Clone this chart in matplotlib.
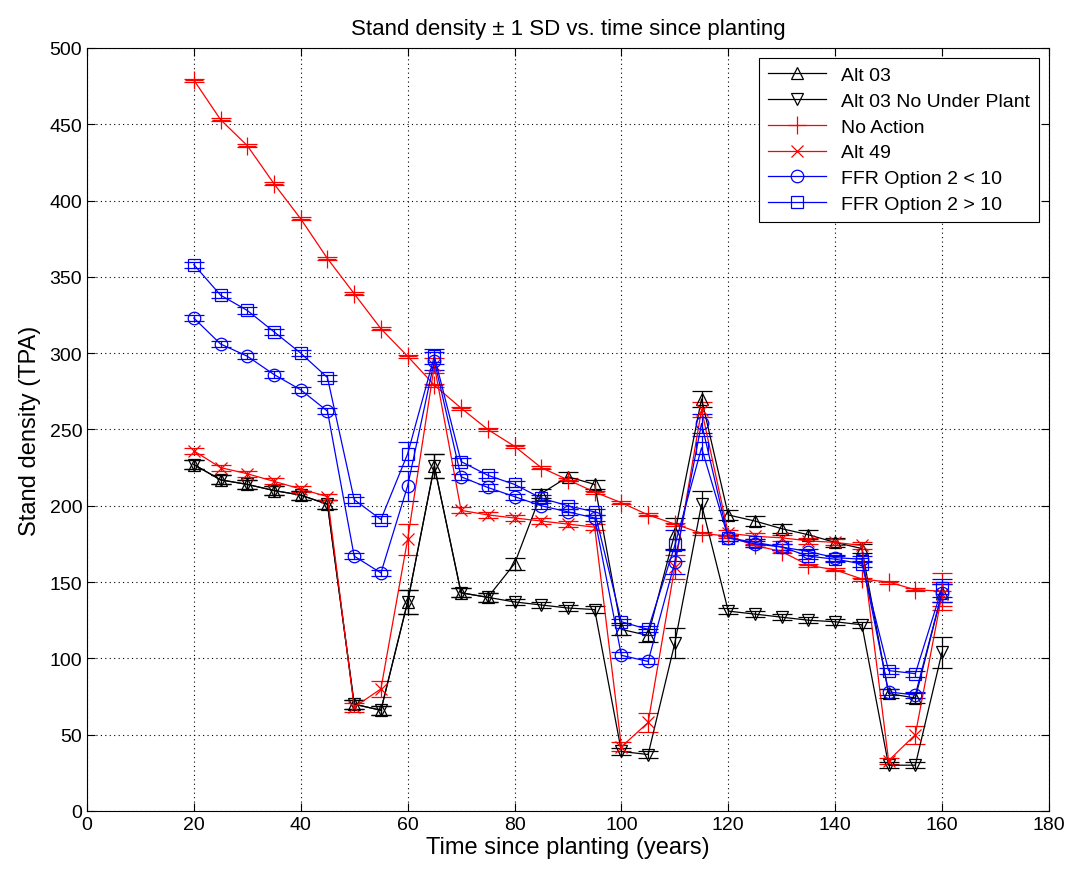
import numpy as np
import matplotlib
matplotlib.use("Agg")
import matplotlib.pyplot as plt
from matplotlib.lines import Line2D

plt.rcParams['font.family'] = ['Liberation Sans', 'DejaVu Sans']

years = [20, 25, 30, 35, 40, 45, 50, 55, 60, 65, 70, 75, 80, 85, 90, 95,
         100, 105, 110, 115, 120, 125, 130, 135, 140, 145, 150, 155, 160]

alt03 = [227, 217, 214, 210, 207, 201, 70, 66, 137, 226, 143, 140, 162, 208, 219, 214,
         119, 115, 182, 270, 194, 190, 185, 181, 176, 172, 77, 74, 143]
alt03_sd = [3, 3, 3, 3, 3, 3, 3, 3, 8, 8, 3, 3, 4, 3, 3, 3,
            4, 4, 10, 5, 3, 3, 3, 3, 3, 3, 3, 3, 6]

alt03_nup = [227, 217, 214, 210, 207, 201, 70, 66, 137, 226, 143, 140, 137, 135, 133, 132,
             39, 37, 110, 201, 131, 129, 127, 125, 124, 122, 30, 30, 104]
alt03_nup_sd = [3, 3, 3, 3, 3, 3, 3, 3, 8, 8, 3, 3, 2, 2, 2, 2,
                2, 2, 10, 9, 2, 2, 2, 2, 2, 2, 2, 2, 10]

no_action = [479, 453, 436, 411, 388, 362, 339, 316, 298, 279, 264, 250, 239, 225, 217, 209,
             202, 194, 188, 182, 180, 174, 170, 161, 158, 152, 150, 145, 144]
no_action_sd = [1, 1, 1, 1, 1, 1, 1, 1, 1, 1, 1, 1, 1, 1, 1, 1,
                1, 1, 1, 1, 1, 1, 1, 1, 1, 1, 1, 1, 12]

alt49 = [236, 225, 221, 216, 211, 206, 68, 80, 178, 292, 197, 194, 192, 190, 188, 186,
         42, 58, 160, 263, 182, 180, 179, 177, 176, 174, 33, 50, 142]
alt49_sd = [2, 2, 2, 2, 2, 2, 3, 5, 10, 5, 2, 2, 2, 2, 2, 2,
            3, 6, 8, 5, 2, 2, 2, 2, 2, 2, 2, 6, 8]

ffr_lt10 = [323, 306, 298, 286, 276, 262, 167, 156, 213, 295, 219, 212, 206, 200, 196, 192,
            102, 98, 163, 254, 179, 175, 173, 170, 166, 165, 78, 76, 143]
ffr_lt10_sd = [2, 2, 2, 2, 2, 2, 2, 2, 10, 6, 2, 2, 2, 2, 2, 2,
               2, 2, 8, 6, 2, 2, 2, 2, 2, 2, 2, 2, 6]

ffr_gt10 = [358, 338, 328, 314, 300, 284, 204, 191, 234, 298, 229, 220, 214, 205, 200, 196,
            124, 119, 174, 238, 179, 176, 173, 167, 165, 162, 92, 90, 146]
ffr_gt10_sd = [2, 2, 2, 2, 2, 2, 2, 2, 8, 5, 2, 2, 2, 2, 2, 2,
               2, 2, 10, 8, 2, 2, 2, 2, 2, 2, 2, 2, 6]

labels = ["Alt 03", "Alt 03 No Under Plant", "No Action", "Alt 49",
          "FFR Option 2 < 10", "FFR Option 2 > 10"]

fig = plt.figure(figsize=(10.78, 8.78), dpi=100)
ax = fig.add_axes([0.0807, 0.0752, 0.8923, 0.8690])

series = [
    (alt03, alt03_sd, 'k', '^', 9),
    (alt03_nup, alt03_nup_sd, 'k', 'v', 9),
    (no_action, no_action_sd, 'r', '+', 13),
    (alt49, alt49_sd, 'r', 'x', 9),
    (ffr_lt10, ffr_lt10_sd, 'b', 'o', 9),
    (ffr_gt10, ffr_gt10_sd, 'b', 's', 9),
]

handles = []
for (vals, sd, col, mk, ms), lab in zip(series, labels):
    ax.errorbar(years, vals, yerr=sd, color=col, marker=mk, markersize=ms,
                markerfacecolor='none', markeredgecolor=col, markeredgewidth=0.9,
                linewidth=0.9, elinewidth=0.9, capsize=7, capthick=0.9)
    handles.append(Line2D([], [], color=col, marker=mk, markersize=ms,
                          markerfacecolor='none', markeredgewidth=0.9, linewidth=0.9))

ax.set_xlim(0, 180)
ax.set_ylim(0, 500)
ax.set_xticks(np.arange(0, 181, 20))
ax.set_yticks(np.arange(0, 501, 50))
ax.grid(True, linestyle=(0, (1, 3)), color='k', linewidth=0.8)
ax.tick_params(direction='in', labelsize=14, length=6, top=True, right=True)
for s in ax.spines.values():
    s.set_linewidth(0.8)

ax.set_xlabel("Time since planting (years)", fontsize=17, labelpad=2)
ax.set_ylabel("Stand density (TPA)", fontsize=17, labelpad=6)
ax.set_title("Stand density \u00b1 1 SD vs. time since planting", fontsize=16, pad=10)

leg = ax.legend(handles, labels, loc='upper right', fontsize=14, fancybox=False,
                edgecolor='k', framealpha=1, borderaxespad=0.5, handlelength=3.0,
                labelspacing=0.42, borderpad=0.45)
leg.get_frame().set_linewidth(0.8)

fig.savefig("out.png", dpi=100)
